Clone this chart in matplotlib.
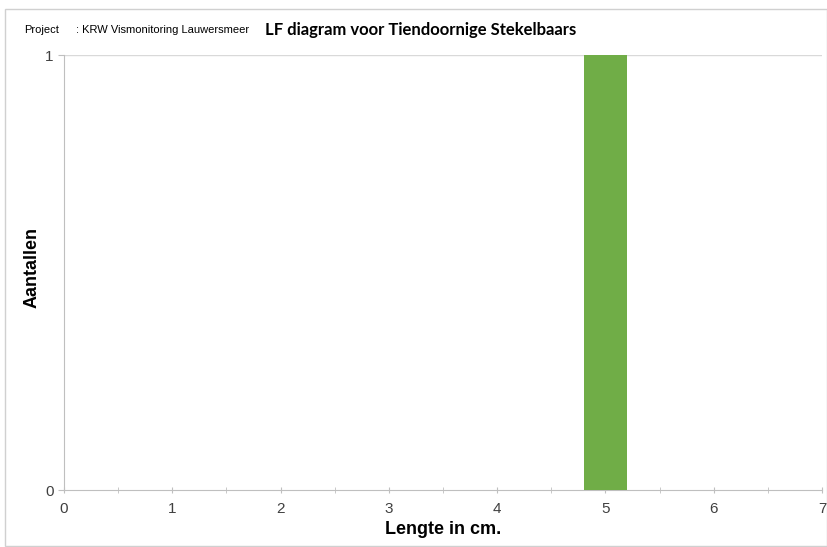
import numpy as np
import matplotlib.pyplot as plt
from matplotlib.patches import Rectangle

# lengteklassen (cm) en aantallen
lengtes = [5]
aantallen = [1]
xticks = [0, 1, 2, 3, 4, 5, 6, 7]
yticks = [0, 1]

W, H = 828, 547
fig = plt.figure(figsize=(W / 100, H / 100), dpi=100)
fig.patches.append(Rectangle((5 / W, 0.002), 1 - 6 / W, 1 - 9 / H - 0.002,
                             transform=fig.transFigure, fill=False,
                             edgecolor='#d0d0d0', linewidth=1))

ax = fig.add_axes([64 / W, 1 - 490 / H, (822 - 64) / W, (490 - 55) / H])
ax.bar(lengtes, aantallen, width=0.4, color='#70ad47', zorder=3)

ax.set_xlim(0, 7)
ax.set_ylim(0, 1)
ax.set_xticks(xticks)
ax.set_xticks(np.arange(0.5, 7, 1), minor=True)
ax.set_yticks(yticks)
ax.axhline(1, color='#d9d9d9', linewidth=1, zorder=1)

for s in ['top', 'right']:
    ax.spines[s].set_visible(False)
for s in ['left', 'bottom']:
    ax.spines[s].set_color('#bfbfbf')
ax.tick_params(axis='x', which='both', direction='inout', length=5,
               color='#bfbfbf', labelsize=11, labelcolor='#404040', pad=6)
ax.tick_params(axis='y', direction='out', length=4, color='#bfbfbf',
               labelsize=11, labelcolor='#404040')
for lab in ax.get_xticklabels() + ax.get_yticklabels():
    lab.set_family('Liberation Sans')

ax.set_xlabel('Lengte in cm.', fontsize=13, fontweight='bold',
              family='Liberation Sans', labelpad=4)
ax.set_ylabel('Aantallen', fontsize=13, fontweight='bold',
              family='Liberation Sans', va='center')
ax.yaxis.set_label_coords(32 / W, 1 - 268 / H, transform=fig.transFigure)

fig.text(24 / W, 1 - 30 / H, 'Project', fontsize=8, family='Liberation Sans',
         va='center')
fig.text(76 / W, 1 - 30 / H, ': KRW Vismonitoring Lauwersmeer', fontsize=8,
         family='Liberation Sans', va='center')
fig.text(265 / W, 1 - 30 / H, 'LF diagram voor Tiendoornige Stekelbaars',
         fontsize=12, fontweight='bold', family='Lato', va='center')

fig.savefig('out.png', dpi=100)
